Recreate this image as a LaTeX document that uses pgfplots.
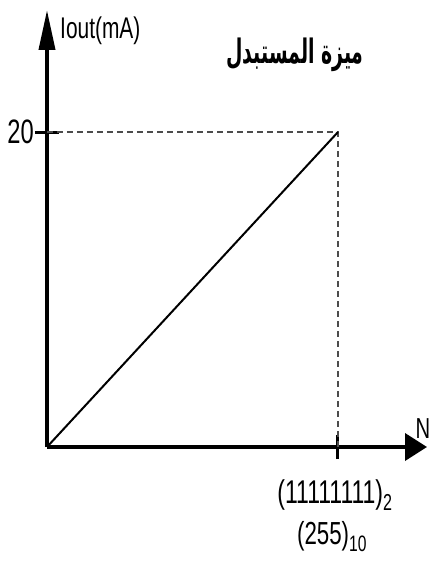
\documentclass[border=0pt]{standalone}
\usepackage{fontspec}
\setmainfont{Liberation Sans}[FakeStretch=0.7]
\newfontfamily\arabicfont[Script=Arabic]{DejaVu Sans}
\TeXXeTstate=1
\usepackage{graphicx}
\usepackage{pgfplots}
\pgfplotsset{compat=1.18}
\usetikzlibrary{arrows.meta}

\begin{document}
\begin{tikzpicture}
% page: 431 x 564, axis origin sits 47 from the left and 117 from the bottom
\useasboundingbox (-47bp,-117bp) rectangle (384bp,447bp);
\begin{axis}[
    scale only axis,
    width=380bp, height=437bp,
    xmin=0, xmax=333,
    ymin=0, ymax=27.75,
    axis lines=left,
    clip=false,
    x axis line style={line width=3.8bp, -{Triangle[length=22bp,width=27bp]}},
    y axis line style={line width=3.8bp, -{Triangle[length=40bp,width=16bp]}},
    xtick={255}, ytick={20},
    xticklabels={}, yticklabels={},
    tick align=center,
    major tick length=24bp,
    tick style={line width=3bp, black},
  ]
  % dashed guide lines
  \addplot[gray!60!black, line width=1.2bp, dash pattern=on 6bp off 4bp]
    coordinates {(0,20) (255,20) (255,0)};
  % characteristic
  \addplot[black, line width=2bp] coordinates {(0,0) (255,20)};

  \node[anchor=west, inner sep=0, font=\fontsize{30}{33}\selectfont]
    at (axis cs:11.4,26.4) {Iout(mA)};
  \node[font=\arabicfont\bfseries\fontsize{26}{30}\selectfont]
    at (axis cs:217.3,24.9) {\scalebox{0.73}[1.3]{\beginR ميزة المستبدل\endR}};
  \node[anchor=east, inner sep=0, font=\fontsize{34}{36}\selectfont]
    at (axis cs:0,20) [xshift=-13bp] {20};
  \node[anchor=east, inner sep=0, font=\fontsize{29}{30}\selectfont]
    at (axis cs:336,1.2) {N};
  \node[font=\fontsize{33}{36}\selectfont]
    at (axis cs:252.4,-3.05) {(11111111)\textsubscript{2}};
  \node[font=\fontsize{32}{36}\selectfont]
    at (axis cs:249.8,-5.7) {(255)\textsubscript{10}};
\end{axis}
\end{tikzpicture}
\end{document}
